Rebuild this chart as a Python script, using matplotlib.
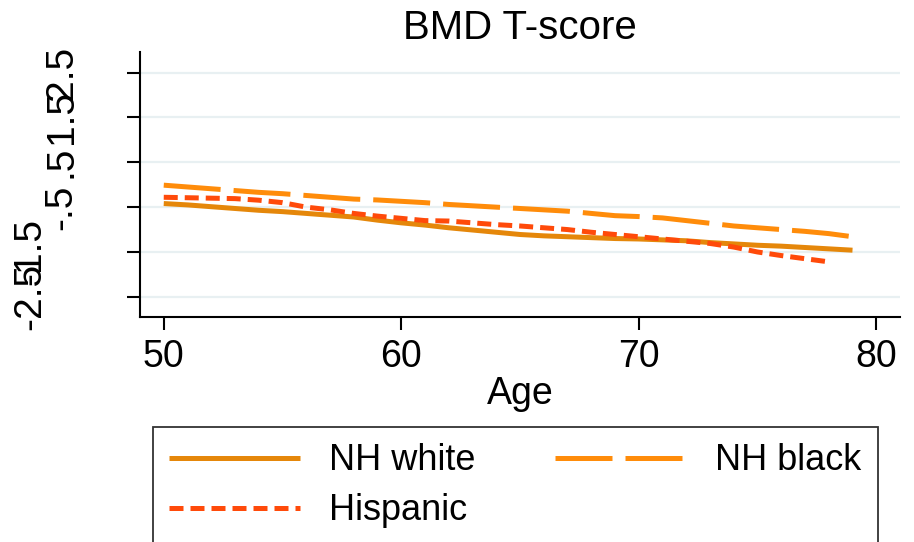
"""
BMD T-score by age, three groups (Stata-style line plot).
"""
import matplotlib
matplotlib.use("Agg")
import matplotlib.pyplot as plt

plt.rcParams["font.family"] = ["Liberation Sans", "DejaVu Sans"]

# ---- Data ----
ages = list(range(50, 80))
ages_hisp = list(range(50, 79))

nh_white = [-0.42, -0.45, -0.49, -0.53, -0.57, -0.60, -0.64, -0.68, -0.72, -0.79,
            -0.85, -0.90, -0.96, -1.01, -1.06, -1.11, -1.14, -1.16, -1.18, -1.20,
            -1.21, -1.23, -1.25, -1.29, -1.32, -1.35, -1.37, -1.40, -1.43, -1.46]
nh_black = [-0.01, -0.05, -0.09, -0.13, -0.17, -0.20, -0.24, -0.28, -0.32, -0.34,
            -0.37, -0.40, -0.44, -0.47, -0.50, -0.53, -0.56, -0.59, -0.64, -0.69,
            -0.71, -0.74, -0.80, -0.86, -0.92, -0.96, -1.00, -1.04, -1.09, -1.16]
hispanic = [-0.28, -0.29, -0.30, -0.31, -0.345, -0.40, -0.50, -0.56, -0.64, -0.70,
            -0.75, -0.80, -0.81, -0.85, -0.89, -0.92, -0.96, -1.00, -1.06, -1.11,
            -1.16, -1.21, -1.26, -1.31, -1.39, -1.50, -1.58, -1.65, -1.72]

y_ticks = [-2.5, -1.5, -0.5, 0.5, 1.5, 2.5]
y_ticklabels = ["-2.5", "-1.5", "-.5", ".5", "1.5", "2.5"]
x_ticks = [50, 60, 70, 80]

# ---- Figure ----
W, H = 914, 542
fig = plt.figure(figsize=(W / 100, H / 100), dpi=100)
fig.patch.set_facecolor("white")
ax = fig.add_axes([140 / W, 1 - 317 / H, 760 / W, 265 / H])

lw = 3.6
l_white, = ax.plot(ages, nh_white, color="#E5870A", lw=lw, label="NH white",
                   solid_capstyle="butt")
l_black, = ax.plot(ages, nh_black, color="#FF8C0A", lw=lw, dashes=(11.4, 2.6),
                   label="NH black", dash_capstyle="butt")
l_hisp, = ax.plot(ages_hisp, hispanic, color="#FF4A0A", lw=lw, dashes=(2.8, 1.4),
                  label="Hispanic", dash_capstyle="butt")

ax.set_xlim(49, 81)
ax.set_ylim(-2.95, 2.96)
ax.set_xticks(x_ticks)
ax.set_yticks(y_ticks)
ax.set_yticklabels(y_ticklabels, rotation=90, va="center", ha="right")

ax.grid(axis="y", color="#E8F0F2", lw=1.6)
ax.set_axisbelow(True)
for side in ("top", "right"):
    ax.spines[side].set_visible(False)
for side in ("left", "bottom"):
    ax.spines[side].set_linewidth(1.5)

ax.tick_params(axis="both", direction="out", length=9.4, width=1.5, labelsize=27)
ax.tick_params(axis="y", labelsize=28)
ax.tick_params(axis="x", pad=6.5)
ax.tick_params(axis="y", pad=34)
# the two lowest labels sit further left (as in the reference)
for t in ax.yaxis.get_major_ticks()[:2]:
    t.set_pad(57)

ax.set_xlabel("Age", fontsize=27, va="baseline")
ax.xaxis.set_label_coords(0.5, -0.33)
ax.text(0.5, 1.049, "BMD T-score", transform=ax.transAxes, ha="center", va="baseline",
        fontsize=29)

# column-wise fill: white / hispanic in col 1, black in col 2
leg = fig.legend(
    [l_white, l_hisp, l_black], ["NH white", "Hispanic", "NH black"],
    loc="upper left", bbox_to_anchor=(153 / W, 1 - 427 / H), ncol=2,
    fontsize=26, handlelength=3.63, handletextpad=0.8, columnspacing=2.2,
    labelspacing=0.42, borderpad=0.45, borderaxespad=0, frameon=True, fancybox=False,
)
leg.get_frame().set_edgecolor("black")
leg.get_frame().set_linewidth(1.3)

fig.savefig("out.png", dpi=100, facecolor="white")
